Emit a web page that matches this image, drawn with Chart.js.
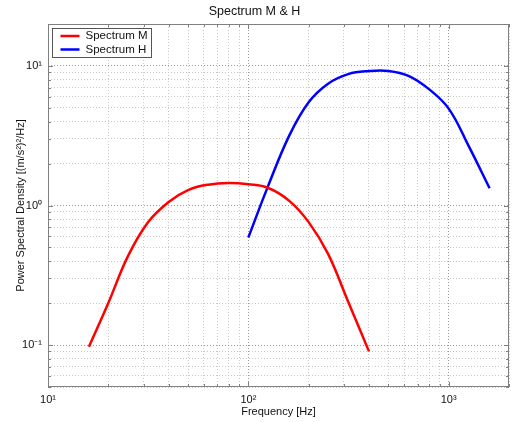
<!DOCTYPE html>
<html>
<head>
<meta charset="utf-8">
<script src="https://cdn.jsdelivr.net/npm/chart.js@4/dist/chart.umd.min.js"></script>
<style>
  html, body { margin: 0; padding: 0; background: #fff; }
  #wrap { width: 515px; height: 422px; }
</style>
</head>
<body>
<div id="wrap"><canvas id="psd" width="515" height="422"></canvas></div>
<script>
// Spectrum M (red), 1/3 octave bands
const freqM = [16, 20, 25, 31.5, 40, 50, 63, 80, 100, 125, 160, 200, 250, 315, 400];
const psdM  = [0.097, 0.2, 0.43, 0.755, 1.06, 1.29, 1.41, 1.45, 1.42, 1.34, 1.08, 0.76, 0.45, 0.204, 0.09];

// Spectrum H (blue)
const freqH = [100, 125, 160, 200, 250, 315, 400, 500, 630, 800, 1000, 1250, 1600];
const psdH  = [0.59, 1.36, 3.17, 5.5, 7.47, 8.75, 9.2, 9.22, 8.5, 6.8, 4.95, 2.72, 1.33];

const xTickValues = [10, 100, 1000];
const xTickLabels = ['10¹', '10²', '10³'];
const yTickValues = [0.1, 1, 10];
const yTickLabels = ['10⁻¹', '10⁰', '10¹'];

const FONT = '"Liberation Sans", Arial, sans-serif';

// 1..9 x 10^n between min and max, for the log grid
function logGrid(min, max) {
  const out = [];
  for (let e = Math.floor(Math.log10(min)); Math.pow(10, e) <= max; e++) {
    for (let m = 1; m < 10; m++) {
      const v = parseFloat((m * Math.pow(10, e)).toPrecision(3));
      if (v >= min * 0.999 && v <= max * 1.001) out.push(v);
    }
  }
  return out;
}

function labelFor(values, labels) {
  return function (value) {
    const i = values.findIndex(t => Math.abs(t - value) / t < 1e-6);
    return i >= 0 ? labels[i] : '';
  };
}

function isDecade(v) {
  const l = Math.log10(v);
  return Math.abs(l - Math.round(l)) < 1e-6;
}

const gridColor = ctx => (ctx.tick && isDecade(ctx.tick.value)) ? '#9a9a9a' : '#c8c8c8';

// box, inner ticks and legend, MATLAB style
const boxPlugin = {
  id: 'box',
  afterDatasetsDraw(chart) {
    const { ctx, chartArea: a, scales } = chart;
    ctx.save();
    ctx.strokeStyle = '#808080';
    ctx.lineWidth = 1;
    ctx.setLineDash([]);
    ctx.beginPath();
    scales.x.ticks.forEach(t => {
      const px = Math.round(scales.x.getPixelForValue(t.value)) + 0.5;
      const len = isDecade(t.value) ? 5 : 3;
      ctx.moveTo(px, a.bottom); ctx.lineTo(px, a.bottom - len);
      ctx.moveTo(px, a.top); ctx.lineTo(px, a.top + len);
    });
    scales.y.ticks.forEach(t => {
      const py = Math.round(scales.y.getPixelForValue(t.value)) + 0.5;
      const len = isDecade(t.value) ? 5 : 3;
      ctx.moveTo(a.left, py); ctx.lineTo(a.left + len, py);
      ctx.moveTo(a.right, py); ctx.lineTo(a.right - len, py);
    });
    ctx.stroke();
    ctx.strokeRect(Math.round(a.left) + 0.5, Math.round(a.top) + 0.5,
                   Math.round(a.right - a.left) - 1, Math.round(a.bottom - a.top) - 1);

    // legend
    const lx = a.left + 4.5, ly = a.top + 4.5, lw = 99, lh = 29;
    ctx.fillStyle = '#fff';
    ctx.fillRect(lx, ly, lw, lh);
    ctx.strokeStyle = '#555';
    ctx.strokeRect(lx, ly, lw, lh);
    ctx.font = '11.5px ' + FONT;
    ctx.textBaseline = 'middle';
    chart.data.datasets.forEach((ds, i) => {
      const y = ly + 7.5 + i * 13.5;
      ctx.strokeStyle = ds.borderColor;
      ctx.lineWidth = 2.5;
      ctx.beginPath();
      ctx.moveTo(lx + 8, y); ctx.lineTo(lx + 27, y);
      ctx.stroke();
      ctx.fillStyle = '#111';
      ctx.fillText(ds.label, lx + 33, y);
    });
    ctx.restore();
  }
};

new Chart(document.getElementById('psd'), {
  type: 'line',
  data: {
    datasets: [
      {
        label: 'Spectrum M',
        data: freqM.map((f, i) => ({ x: f, y: psdM[i] })),
        borderColor: '#ff0000',
        borderWidth: 2.5,
        pointRadius: 0,
        tension: 0.4,
      },
      {
        label: 'Spectrum H',
        data: freqH.map((f, i) => ({ x: f, y: psdH[i] })),
        borderColor: '#0000ff',
        borderWidth: 2.5,
        pointRadius: 0,
        tension: 0.4,
      },
    ],
  },
  options: {
    responsive: false,
    animation: false,
    layout: { padding: { top: 0, right: 6, bottom: 0, left: 0 } },
    plugins: {
      legend: { display: false },
      tooltip: { enabled: false },
      title: {
        display: true,
        text: 'Spectrum M & H',
        color: '#111',
        font: { family: FONT, size: 12.5, weight: 'normal' },
        padding: { top: 4, bottom: 5 },
      },
    },
    scales: {
      x: {
        type: 'logarithmic',
        min: 10,
        max: 2000,
        afterBuildTicks: s => { s.ticks = logGrid(10, 2000).map(v => ({ value: v })); },
        afterFit: s => { s.height = 35; },
        ticks: {
          autoSkip: false,
          maxRotation: 0,
          padding: 6,
          color: '#111',
          font: { family: FONT, size: 11 },
          callback: labelFor(xTickValues, xTickLabels),
        },
        grid: { color: gridColor, drawTicks: false, lineWidth: 1 },
        border: { display: false, dash: [1, 2] },
        title: {
          display: true,
          text: 'Frequency [Hz]',
          color: '#111',
          font: { family: FONT, size: 11 },
          padding: { top: 0, bottom: 3 },
        },
      },
      y: {
        type: 'logarithmic',
        min: 0.05,
        max: 20,
        afterBuildTicks: s => { s.ticks = logGrid(0.05, 20).map(v => ({ value: v })); },
        afterFit: s => { s.width = 48; },
        ticks: {
          autoSkip: false,
          padding: 6,
          color: '#111',
          font: { family: FONT, size: 11 },
          callback: labelFor(yTickValues, yTickLabels),
        },
        grid: { color: gridColor, drawTicks: false, lineWidth: 1 },
        border: { display: false, dash: [1, 2] },
        title: {
          display: true,
          text: 'Power Spectral Density [(m/s²)²/Hz]',
          color: '#111',
          font: { family: FONT, size: 11 },
          padding: { top: 14, bottom: 0 },
        },
      },
    },
  },
  plugins: [boxPlugin],
});
</script>
</body>
</html>
